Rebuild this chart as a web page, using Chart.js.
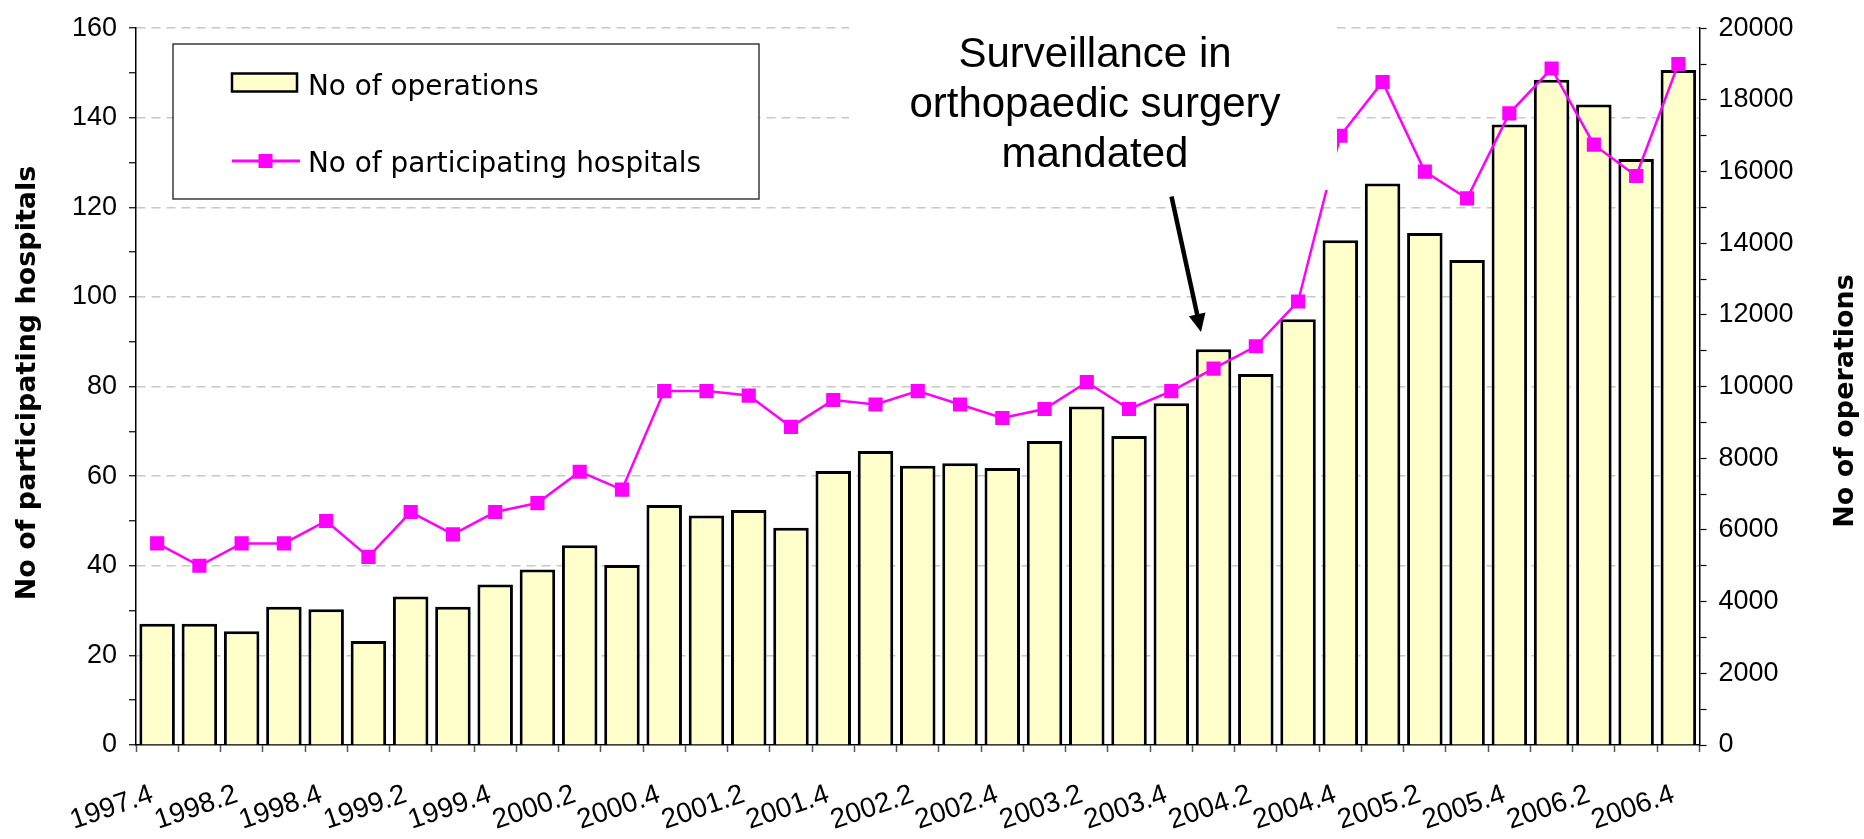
<!DOCTYPE html>
<html><head><meta charset="utf-8">
<script src="https://cdn.jsdelivr.net/npm/chart.js@4.4.1/dist/chart.umd.min.js"></script>
<style>html,body{margin:0;padding:0;background:#fff;} #wrap{width:1864px;height:839px;position:relative;}</style>
</head><body><div id="wrap"><canvas id="c" width="1864" height="839"></canvas></div>
<script>
const categories = ['1997.4','1998.1','1998.2','1998.3','1998.4','1999.1','1999.2','1999.3','1999.4',
  '2000.1','2000.2','2000.3','2000.4','2001.1','2001.2','2001.3','2001.4','2002.1','2002.2','2002.3',
  '2002.4','2003.1','2003.2','2003.3','2003.4','2004.1','2004.2','2004.3','2004.4','2005.1','2005.2',
  '2005.3','2005.4','2006.1','2006.2','2006.3','2006.4'];
const operations = [3380,3380,3175,3860,3785,2900,4140,3860,4480,4900,5575,5025,6695,6405,6555,6065,
  7645,8205,7795,7860,7730,8480,9445,8620,9535,11045,10350,11880,14085,15665,14285,13530,17315,18565,
  17870,16350,18835];
const hospitals = [45,40,45,45,50,42,52,47,52,54,61,57,79,79,78,71,77,76,79,76,73,75,81,75,79,84,89,99,
  136,148,128,122,141,151,134,127,152];
const seriesNames = ['No of operations','No of participating hospitals'];
const leftTitle = 'No of participating hospitals';
const rightTitle = 'No of operations';
const annotationLines = ['Surveillance in','orthopaedic surgery','mandated'];

const ARIAL = '"Liberation Sans", Arial, sans-serif';
const BAR_FILL = '#FFFFCC';
const LINE_COL = '#FF00FF';
const TICK_SIZE = 27;

function fitFont(ctx, text, weight, family, target) {
  ctx.font = weight + ' 20px ' + family;
  const w = ctx.measureText(text).width;
  return 20 * target / w;
}

const overlay = {
  id: 'overlay',
  afterDraw(chart) {
    const ctx = chart.ctx;
    ctx.save();
    // annotation box (white, covers gridlines)
    ctx.fillStyle = '#fff';
    ctx.fillRect(849, 6, 488, 184);
    ctx.fillStyle = '#000';
    ctx.font = '42px ' + ARIAL;
    ctx.textAlign = 'center';
    ctx.textBaseline = 'alphabetic';
    annotationLines.forEach((t, k) => ctx.fillText(t, 1095, 67 + 50 * k));
    // arrow
    const sx = 1171.5, sy = 196.5, tx = 1201, ty = 332;
    const dx = tx - sx, dy = ty - sy, len = Math.hypot(dx, dy);
    const ux = dx / len, uy = dy / len;
    const hl = 18, hw = 8.5;
    const bx = tx - ux * hl, by = ty - uy * hl;
    ctx.strokeStyle = '#000'; ctx.lineWidth = 4.5; ctx.lineCap = 'butt';
    ctx.beginPath(); ctx.moveTo(sx, sy); ctx.lineTo(bx + ux * 2, by + uy * 2); ctx.stroke();
    ctx.beginPath();
    ctx.moveTo(tx, ty);
    ctx.lineTo(bx - uy * hw, by + ux * hw);
    ctx.lineTo(bx + uy * hw, by - ux * hw);
    ctx.closePath(); ctx.fillStyle = '#000'; ctx.fill();

    // legend
    const barDs = chart.data.datasets.find(d => d.type === 'bar');
    const lineDs = chart.data.datasets.find(d => d.type === 'line');
    ctx.fillStyle = '#fff';
    ctx.fillRect(173, 44, 586, 155);
    ctx.strokeStyle = '#3a3a3a'; ctx.lineWidth = 1.5;
    ctx.strokeRect(173, 44, 586, 155);
    ctx.fillStyle = barDs.backgroundColor;
    ctx.fillRect(232, 73.5, 65, 18);
    ctx.strokeStyle = '#000'; ctx.lineWidth = 2.5;
    ctx.strokeRect(232, 73.5, 65, 18);
    ctx.strokeStyle = lineDs.borderColor; ctx.lineWidth = 3;
    ctx.beginPath(); ctx.moveTo(232, 161); ctx.lineTo(300, 161); ctx.stroke();
    ctx.fillStyle = lineDs.backgroundColor;
    ctx.fillRect(265.5 - 7, 161 - 7, 14, 14);
    const lfam = '"DejaVu Sans", sans-serif';
    const lsize = fitFont(ctx, barDs.label, 'normal', lfam, 231);
    ctx.font = lsize.toFixed(2) + 'px ' + lfam;
    ctx.fillStyle = '#000'; ctx.textAlign = 'left'; ctx.textBaseline = 'alphabetic';
    ctx.fillText(barDs.label, 308, 94.5);
    ctx.fillText(lineDs.label, 308, 172);

    // axis titles
    const tfam = '"DejaVu Sans", sans-serif';
    const s1 = fitFont(ctx, leftTitle, 'bold', tfam, 410);
    const s2 = fitFont(ctx, rightTitle, 'bold', tfam, 268);
    const ts = (s1 + s2) / 2;
    ctx.font = 'bold ' + ts.toFixed(2) + 'px ' + tfam;
    ctx.textAlign = 'center'; ctx.textBaseline = 'middle';
    ctx.save(); ctx.translate(28, 383); ctx.rotate(-Math.PI / 2); ctx.fillText(leftTitle, 0, 0); ctx.restore();
    ctx.save(); ctx.translate(1846, 401); ctx.rotate(-Math.PI / 2); ctx.fillText(rightTitle, 0, 0); ctx.restore();
    ctx.restore();
  }
};

new Chart(document.getElementById('c'), {
  data: {
    labels: categories,
    datasets: [
      { type: 'line', label: seriesNames[1], data: hospitals, yAxisID: 'y', order: 0,
        borderColor: LINE_COL, backgroundColor: LINE_COL, borderWidth: 2.5,
        pointStyle: 'rect', pointRadius: 10, pointBorderWidth: 0, tension: 0 },
      { type: 'bar', label: seriesNames[0], data: operations, yAxisID: 'y1', order: 1,
        backgroundColor: BAR_FILL, borderColor: '#000', borderWidth: 3,
        categoryPercentage: 1, barPercentage: 0.84 }
    ]
  },
  options: {
    responsive: false, animation: false, devicePixelRatio: 1,
    layout: { padding: { top: 24, left: 0, right: 0, bottom: 0 } },
    plugins: { legend: { display: false }, tooltip: { enabled: false } },
    scales: {
      x: {
        type: 'category', offset: true,
        grid: { offset: true, drawOnChartArea: false, tickLength: 7, tickColor: '#555', tickWidth: 1.5 },
        border: { display: true, color: '#000', width: 1.5 },
        ticks: { autoSkip: false, maxRotation: 19, minRotation: 19, padding: 26, labelOffset: -5,
          color: '#000', font: { family: ARIAL, size: 28 },
          callback: function (v, i) { return i % 2 === 0 ? categories[i] : ''; } },
        afterFit: s => { s.height = 94; }
      },
      y: {
        position: 'left', min: 0, max: 160,
        grid: { color: c => (c.tick && c.tick.value % 20 === 0 && c.tick.value !== 0) ? '#C8C8C8' : 'transparent',
          lineWidth: 1.5, tickLength: 7, tickColor: '#000', tickWidth: 1.2 },
        border: { display: true, color: '#000', width: 1.5, dash: [9, 6] },
        ticks: { stepSize: 10, padding: 12, color: '#000', font: { family: ARIAL, size: TICK_SIZE },
          callback: v => (v % 20 === 0 ? String(v) : '') },
        afterFit: s => { s.width = 136; }
      },
      y1: {
        position: 'right', min: 0, max: 20000,
        grid: { drawOnChartArea: false, tickLength: 7, tickColor: '#000', tickWidth: 1.2 },
        border: { display: true, color: '#000', width: 1.5 },
        ticks: { stepSize: 1000, padding: 12, color: '#000', font: { family: ARIAL, size: TICK_SIZE },
          callback: v => (v % 2000 === 0 ? String(v) : '') },
        afterFit: s => { s.width = 164.5; }
      }
    }
  },
  plugins: [overlay]
});
</script></body></html>
